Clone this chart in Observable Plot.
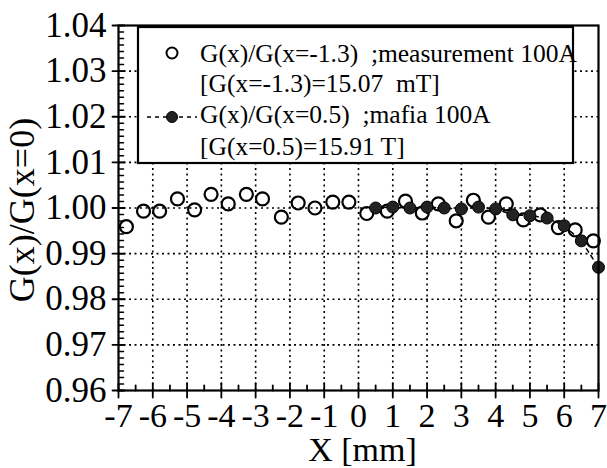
<!DOCTYPE html>
<html>
<head>
<meta charset="utf-8">
<script src="https://cdn.jsdelivr.net/npm/d3@7"></script>
<script src="https://cdn.jsdelivr.net/npm/@observablehq/plot@0.6"></script>
<style>
  html, body { margin: 0; padding: 0; background: #fff; }
  #wrap { position: relative; width: 607px; height: 468px; }
  #legend { position: absolute; left: 0; top: 0; }
</style>
</head>
<body>
<div id="wrap"></div>
<script>
// measurement: G(x)/G(x=-1.3), open circles
const measX = [-6.77, -6.27, -5.8, -5.28, -4.78, -4.3, -3.8, -3.27, -2.8, -2.25, -1.76, -1.27, -0.75, -0.28, 0.24,
               0.84, 1.37, 1.86, 2.33, 2.85, 3.35, 3.79, 4.31, 4.81, 5.30, 5.83, 6.32, 6.85];
const measY = [0.9959, 0.9993, 0.9993, 1.0020, 0.9996, 1.0030, 1.0009, 1.0030, 1.0020, 0.9980, 1.0011, 1.0000, 1.0013, 1.0013, 0.9988,
               0.9993, 1.0015, 0.9989, 1.0009, 0.9972, 1.0017, 0.9980, 1.0009, 0.9974, 0.9985, 0.9957, 0.9952, 0.9928];
// mafia: G(x)/G(x=0.5), filled circles with dashed line
const mafiaX = [0.5, 1.0, 1.5, 2.0, 2.5, 3.0, 3.5, 4.0, 4.5, 5.0, 5.5, 6.0, 6.5, 7.0];
const mafiaY = [1.0000, 1.0002, 1.0000, 1.0002, 1.0000, 0.9998, 1.0002, 0.9998, 0.9985, 0.9983, 0.9978, 0.9961, 0.9928, 0.9870];
// ticks
const xTicks = [-7, -6, -5, -4, -3, -2, -1, 0, 1, 2, 3, 4, 5, 6, 7];
const xMinor = [-6.5, -5.5, -4.5, -3.5, -2.5, -1.5, -0.5, 0.5, 1.5, 2.5, 3.5, 4.5, 5.5, 6.5];
const yTicks = [0.96, 0.97, 0.98, 0.99, 1.00, 1.01, 1.02, 1.03, 1.04];
const legendLines = ["G(x)/G(x=-1.3)  ;measurement 100A", "[G(x=-1.3)=15.07  mT]", "G(x)/G(x=0.5)  ;mafia 100A", "[G(x=0.5)=15.91 T]"];

const meas = measX.map((x, i) => ({x, y: measY[i]}));
const mafia = mafiaX.map((x, i) => ({x, y: mafiaY[i]}));
const yMinor = d3.range(0, 56).map(i => 0.96 + i / 700).filter(v => v < 1.04);

const tickShape = {draw(ctx, l) { ctx.moveTo(0, 0); ctx.lineTo(0, -l); }};
const FONT = "Liberation Serif, Times New Roman, serif";

const chart = Plot.plot({
  width: 607,
  height: 468,
  marginLeft: 118,
  marginRight: 9,
  marginTop: 25,
  marginBottom: 78,
  style: {fontFamily: FONT, background: "white", color: "black"},
  x: {domain: [-7, 7]},
  y: {domain: [0.96, 1.04]},
  marks: [
    Plot.gridX(xTicks.slice(1, -1), {stroke: "black", strokeOpacity: 1, strokeWidth: 1.6, strokeDasharray: "2,3.5"}),
    Plot.gridY(yTicks.slice(1, -1), {stroke: "black", strokeOpacity: 1, strokeWidth: 1.6, strokeDasharray: "2,3.5"}),
    Plot.axisX(xTicks, {tickSize: 0, tickPadding: 12, fontSize: 34, label: null,
      tickFormat: d => d < 0 ? "-" + Math.abs(d) : String(d)}),
    Plot.axisY(yTicks, {tickSize: 0, tickPadding: 12, fontSize: 35, label: null, tickFormat: d3.format(".2f")}),
    Plot.text(["X [mm]"], {frameAnchor: "bottom", dx: 4, dy: 70, fontSize: 34, lineAnchor: "bottom"}),
    Plot.text(["G(x)/G(x=0)"], {frameAnchor: "left", dx: -96, dy: 2, rotate: -90, fontSize: 36, textAnchor: "middle"}),
    Plot.line(mafia, {x: "x", y: "y", stroke: "black", strokeWidth: 1.5, strokeDasharray: "4,4"}),
    Plot.dot(meas, {x: "x", y: "y", r: 6.5, stroke: "black", strokeWidth: 2.2, fill: "none"}),
    Plot.dot(mafia, {x: "x", y: "y", r: 6, stroke: "black", strokeWidth: 1, fill: "#222"}),
    Plot.frame({stroke: "black", strokeWidth: 2.2}),
    Plot.vector(xTicks, {x: d => d, frameAnchor: "bottom", length: 14, anchor: "middle", rotate: 0, shape: tickShape, stroke: "black", strokeWidth: 1.8}),
    Plot.vector(xMinor, {x: d => d, frameAnchor: "bottom", length: 5, anchor: "start", rotate: 0, shape: tickShape, stroke: "black", strokeWidth: 1.8}),
    Plot.vector(yTicks, {y: d => d, frameAnchor: "left", length: 12, anchor: "middle", rotate: 90, shape: tickShape, stroke: "black", strokeWidth: 1.8}),
    Plot.vector(yMinor, {y: d => d, frameAnchor: "left", length: 5, anchor: "start", rotate: 90, shape: tickShape, stroke: "black", strokeWidth: 1.5})
  ]
});

const wrap = document.getElementById("wrap");
wrap.appendChild(chart);

// legend box inside plot area
const ns = "http://www.w3.org/2000/svg";
const lg = document.createElementNS(ns, "svg");
lg.setAttribute("id", "legend");
lg.setAttribute("width", 607);
lg.setAttribute("height", 200);
lg.style.fontFamily = FONT;
lg.innerHTML = `
  <rect x="138" y="27" width="435" height="136" fill="white" stroke="black" stroke-width="2.2"/>
  <circle cx="172" cy="53" r="5.5" fill="none" stroke="black" stroke-width="2"/>
  <line x1="147" x2="197" y1="117" y2="117" stroke="black" stroke-width="1.5" stroke-dasharray="4,4"/>
  <circle cx="172" cy="117" r="5.5" fill="#222" stroke="black" stroke-width="1"/>
`;
const baselines = [62, 92, 123, 155];
legendLines.forEach((t, i) => {
  const el = document.createElementNS(ns, "text");
  el.setAttribute("x", 200);
  el.setAttribute("y", baselines[i]);
  el.setAttribute("font-size", "25.5");
  el.setAttribute("fill", "black");
  el.setAttribute("xml:space", "preserve");
  el.style.whiteSpace = "pre";
  el.textContent = t;
  lg.appendChild(el);
});
wrap.appendChild(lg);
</script>
</body>
</html>
